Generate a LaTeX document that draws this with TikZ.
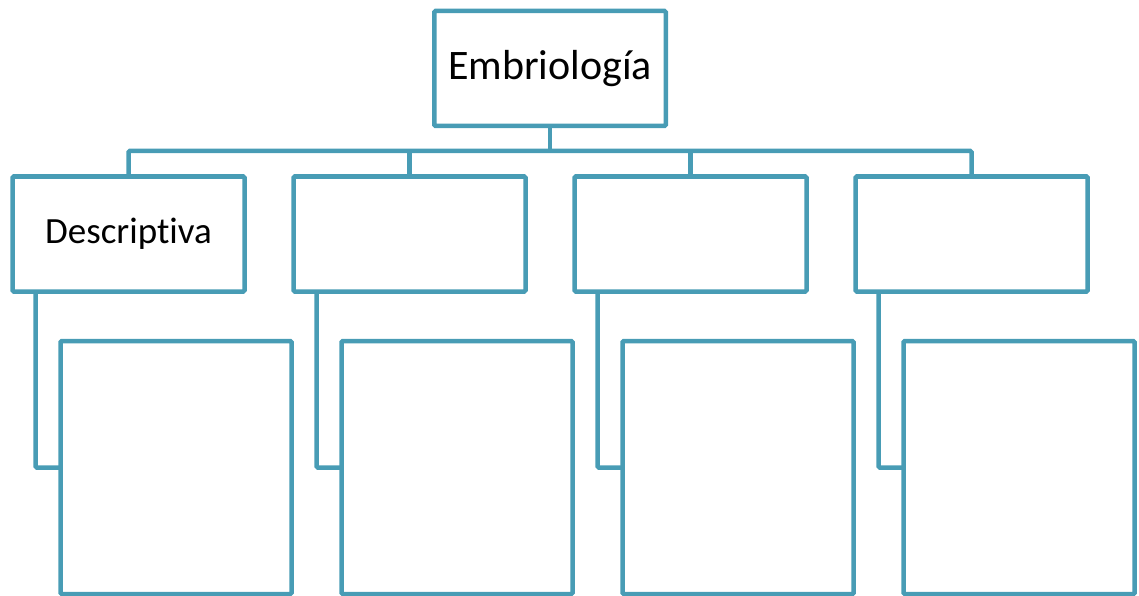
\documentclass[tikz,border=0pt]{standalone}
\usepackage{fontspec}
\setmainfont{Carlito}[Ligatures={NoCommon}]
\definecolor{frame}{RGB}{72,156,181}
\begin{document}
\begin{tikzpicture}[x=1pt,y=-1pt,
  box/.style={draw=frame, line width=4.5pt, rounded corners=1.2pt, rectangle,
    outer sep=0pt, inner sep=0pt, fill=white, text=black},
  topbox/.style={box, minimum width=231.5pt, minimum height=115pt, font=\fontsize{42}{48}\selectfont},
  midbox/.style={box, minimum width=232pt, minimum height=115pt, font=\fontsize{37}{42}\selectfont},
  lowbox/.style={box, minimum width=231pt, minimum height=253pt},
  link/.style={draw=frame, line width=4.5pt, rounded corners=1.2pt}]
\useasboundingbox (0,0) rectangle (1139,596);
% root
\node[topbox] (top) at (550,68.5) {Embriología};
% second level
\foreach \i/\t in {1/Descriptiva,2/,3/,4/}{
  \node[midbox] (b\i) at ({128.5+281*(\i-1)},234) {\t};
}
% third level
\foreach \i in {1,...,4}{
  \node[lowbox] (c\i) at ({176+281*(\i-1)},467.5) {};
}
% bus from the root to the second level
\coordinate (bus) at (550,151);
\draw[link] (b1.north) |- (bus) -| (b4.north);
\draw[link] (top.south) -- (bus);
\draw[link] (b2.north) -- (b2.north |- bus);
\draw[link] (b3.north) -- (b3.north |- bus);
% elbows from the second to the third level
\foreach \i in {1,...,4}{
  \draw[link] ([xshift=23pt]b\i.south west) |- (c\i.west);
}
\end{tikzpicture}
\end{document}
